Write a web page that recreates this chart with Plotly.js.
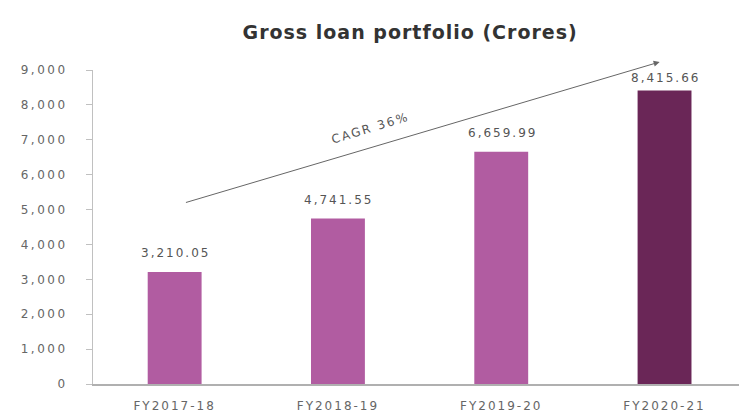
<!DOCTYPE html>
<html>
<head>
<meta charset="utf-8">
<script src="https://cdn.plot.ly/plotly-3.0.1.min.js"></script>
<style>
html,body{margin:0;padding:0;background:#fff;}
#chart{width:739px;height:414px;}
.xtick text{letter-spacing:2px;}
.ytick text{letter-spacing:2.5px;}
.annotation-text{letter-spacing:2px;}
.gtitle{letter-spacing:1px;}
</style>
</head>
<body>
<div id="chart"></div>
<script>
// ---- data ----
const categories = ["FY2017-18", "FY2018-19", "FY2019-20", "FY2020-21"];
const loanValues = [3210.05, 4741.55, 6659.99, 8415.66];
const valueLabels = ["3,210.05", "4,741.55", "6,659.99", "8,415.66"];
const yTickValues = [0, 1000, 2000, 3000, 4000, 5000, 6000, 7000, 8000, 9000];
const yTickLabels = ["0", "1,000", "2,000", "3,000", "4,000", "5,000", "6,000", "7,000", "8,000", "9,000"];
const cagrText = "CAGR 36%";

// ---- styles ----
const barColors = ["#B15CA1", "#B15CA1", "#B15CA1", "#6A2657"];
const labelShift = [10, 10, 10, 3];
const grey = "#666666";
const font = "DejaVu Sans, sans-serif";

const trace = {
  type: "bar",
  x: categories.map((c, i) => i),
  y: loanValues,
  marker: {color: barColors},
  width: 0.33,
  hoverinfo: "none"
};

const annotations = categories.map((c, i) => ({
  x: i, y: loanValues[i], xref: "x", yref: "y",
  text: valueLabels[i], showarrow: false,
  yanchor: "bottom", yshift: labelShift[i], xshift: 1,
  font: {family: font, size: 12, color: "#555"}
}));

// CAGR trend arrow (from first category to last, above the bars)
annotations.push({
  x: 2.97, y: 9230, xref: "x", yref: "y",
  ax: 0.06, ay: 5190, axref: "x", ayref: "y",
  showarrow: true, arrowhead: 2, arrowsize: 1.2, arrowwidth: 1,
  arrowcolor: "#666", text: ""
});
annotations.push({
  x: 1.2, y: 7340, xref: "x", yref: "y",
  text: cagrText, showarrow: false, textangle: -17,
  font: {family: font, size: 12, color: "#555"}
});

const layout = {
  width: 739, height: 414,
  margin: {l: 93, r: 0, t: 70, b: 30},
  paper_bgcolor: "#ffffff", plot_bgcolor: "#ffffff",
  showlegend: false,
  title: {
    text: "<b>Gross loan portfolio (Crores)</b>",
    x: 0.555, xref: "container", xanchor: "center",
    y: 0.923, yref: "container", yanchor: "middle",
    font: {family: "DejaVu Sans, sans-serif", size: 19, color: "#333"}
  },
  xaxis: {
    range: [-0.5, 3.456],
    tickvals: categories.map((c, i) => i),
    ticktext: categories,
    showgrid: false, zeroline: false,
    showline: true, linecolor: "#b0b0b0", linewidth: 1.5,
    ticks: "", ticklabelstandoff: 10,
    tickfont: {family: font, size: 12, color: grey},
    fixedrange: true
  },
  yaxis: {
    range: [0, 9000],
    tickvals: yTickValues, ticktext: yTickLabels,
    showgrid: false, zeroline: false,
    showline: true, linecolor: "#c0c0c0", linewidth: 1,
    ticks: "outside", ticklen: 6, tickcolor: "#c0c0c0",
    ticklabelstandoff: 16,
    tickfont: {family: font, size: 12, color: grey},
    fixedrange: true
  },
  annotations: annotations
};

Plotly.newPlot("chart", [trace], layout, {displayModeBar: false, staticPlot: true});
</script>
</body>
</html>
